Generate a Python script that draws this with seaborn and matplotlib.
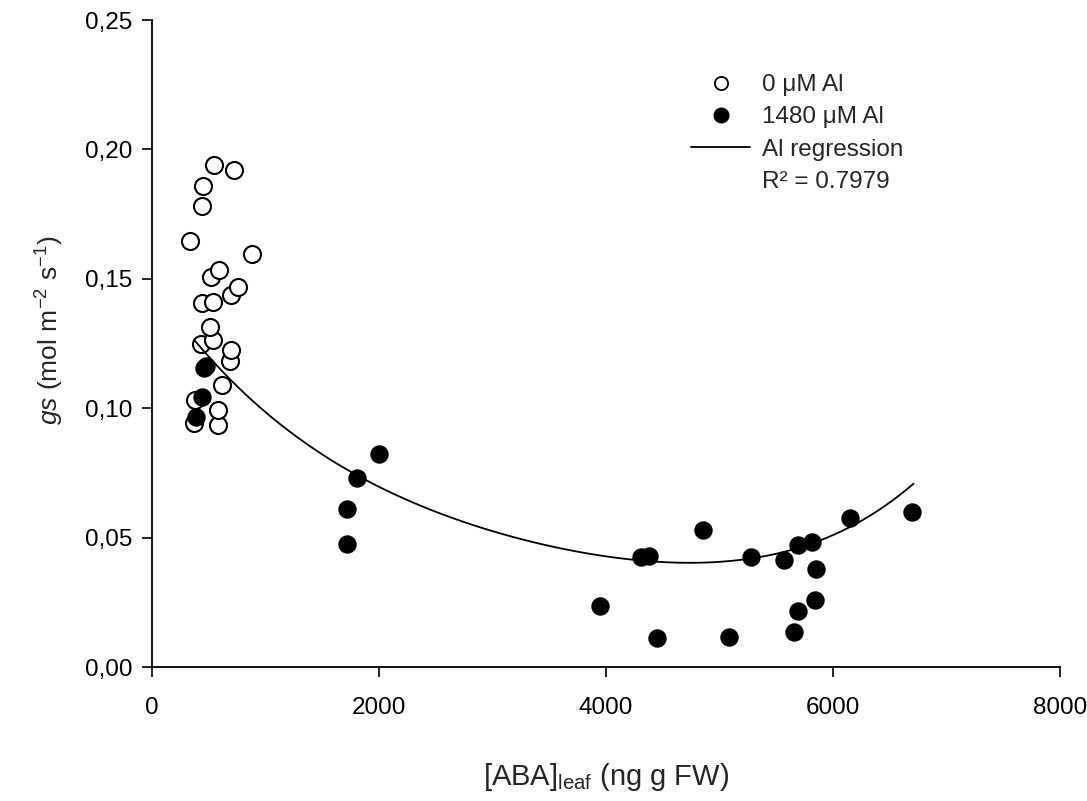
import numpy as np
import pandas as pd
import matplotlib
matplotlib.use("Agg")
import matplotlib.pyplot as plt
import seaborn as sns
from matplotlib.lines import Line2D
from matplotlib.ticker import FuncFormatter

# 0 µM Al (open circles)
ctrl_aba = [368, 377, 579, 579, 614, 684, 693, 430, 535, 509, 439, 535, 693, 754,
            518, 588, 877, 333, 439, 447, 544, 719]
ctrl_gs = [0.0945, 0.1034, 0.0934, 0.0992, 0.1092, 0.1184, 0.1227, 0.1250, 0.1265,
           0.1316, 0.1408, 0.1412, 0.1439, 0.1470, 0.1508, 0.1535, 0.1597, 0.1647,
           0.1782, 0.1860, 0.1941, 0.1921]

# 1480 µM Al (filled circles)
al_aba = [386, 439, 456, 474, 1996, 1807, 1716, 1716, 4854, 4307, 4380, 5281, 5570,
          5693, 5813, 5848, 3947, 4453, 5082, 5696, 5661, 5842, 6155, 6696]
al_gs = [0.0965, 0.1042, 0.1154, 0.1165, 0.0824, 0.0730, 0.0612, 0.0477, 0.0531,
         0.0426, 0.0428, 0.0426, 0.0413, 0.0471, 0.0483, 0.0381, 0.0235, 0.0111,
         0.0115, 0.0216, 0.0136, 0.0258, 0.0576, 0.0599]

# Al regression curve
reg_aba = [377, 1316, 1807, 3070, 3596, 4300, 4854, 5526, 6170, 6711]
reg_gs = [0.1260, 0.0885, 0.0730, 0.0522, 0.0458, 0.0420, 0.0394, 0.0439, 0.0554, 0.0706]

x_ticks = [0, 2000, 4000, 6000, 8000]
y_ticks = [0.00, 0.05, 0.10, 0.15, 0.20, 0.25]
r2_label = "R² = 0.7979"

sns.set_theme(style="ticks")
plt.rcParams['font.family'] = ['Liberation Sans', 'DejaVu Sans']
plt.rcParams['mathtext.fontset'] = 'custom'
plt.rcParams['mathtext.rm'] = 'Liberation Sans'
plt.rcParams['mathtext.it'] = 'Liberation Sans:italic'

fig = plt.figure(figsize=(10.87, 8.01), dpi=100)
ax = fig.add_axes([0.140, 0.167, 0.835, 0.808])

df_c = pd.DataFrame({"aba": ctrl_aba, "gs": ctrl_gs})
df_a = pd.DataFrame({"aba": al_aba, "gs": al_gs})

# smooth polynomial regression through the read curve values
coef = np.polyfit(reg_aba, reg_gs, 4)
xs = np.linspace(min(reg_aba), max(reg_aba), 200)
df_fit = pd.DataFrame({"aba": xs, "gs": np.polyval(coef, xs)})
sns.lineplot(data=df_fit, x="aba", y="gs", ax=ax, color="black", lw=1.3, zorder=3)

sns.scatterplot(data=df_c, x="aba", y="gs", ax=ax, marker="o", s=150,
                facecolor="white", edgecolor="black", linewidth=1.5, zorder=2)
sns.scatterplot(data=df_a, x="aba", y="gs", ax=ax, marker="o", s=150,
                color="black", edgecolor="black", linewidth=1.0, zorder=4)

ax.set_xlim(0, 8000)
ax.set_ylim(0, 0.25)
ax.set_xticks(x_ticks)
ax.set_yticks(y_ticks)
ax.yaxis.set_major_formatter(FuncFormatter(lambda v, p: f"{v:.2f}".replace(".", ",")))
ax.tick_params(axis="both", labelsize=17.5, length=7.5, width=1.2, direction="out", colors="black")
ax.tick_params(axis="x", pad=14)
ax.tick_params(axis="y", pad=7)
for s in ["top", "right"]:
    ax.spines[s].set_visible(False)
for s in ["left", "bottom"]:
    ax.spines[s].set_linewidth(1.3)
    ax.spines[s].set_color("black")

ax.set_xlabel(r"[ABA]$_{\mathrm{leaf}}$ (ng g FW)", fontsize=21, labelpad=30)
ax.set_ylabel(r"$\mathit{gs}$ (mol m$^{-2}$ s$^{-1}$)", fontsize=19, labelpad=16)
ax.yaxis.set_label_coords(-0.095, 0.52)

handles = [
    Line2D([], [], marker="o", linestyle="none", markerfacecolor="white",
           markeredgecolor="black", markersize=9.5, markeredgewidth=1.3),
    Line2D([], [], marker="o", linestyle="none", markerfacecolor="black",
           markeredgecolor="black", markersize=10.5),
    Line2D([], [], color="black", lw=1.3),
    Line2D([], [], color="none"),
]
labels = ["0 μM Al", "1480 μM Al", "Al regression", r2_label]
leg = ax.legend(handles, labels, loc="upper left", bbox_to_anchor=(0.57, 0.95),
                frameon=False, fontsize=17.5, handlelength=2.4, labelspacing=0.42,
                handletextpad=0.5)

fig.savefig("out.png", dpi=100)
